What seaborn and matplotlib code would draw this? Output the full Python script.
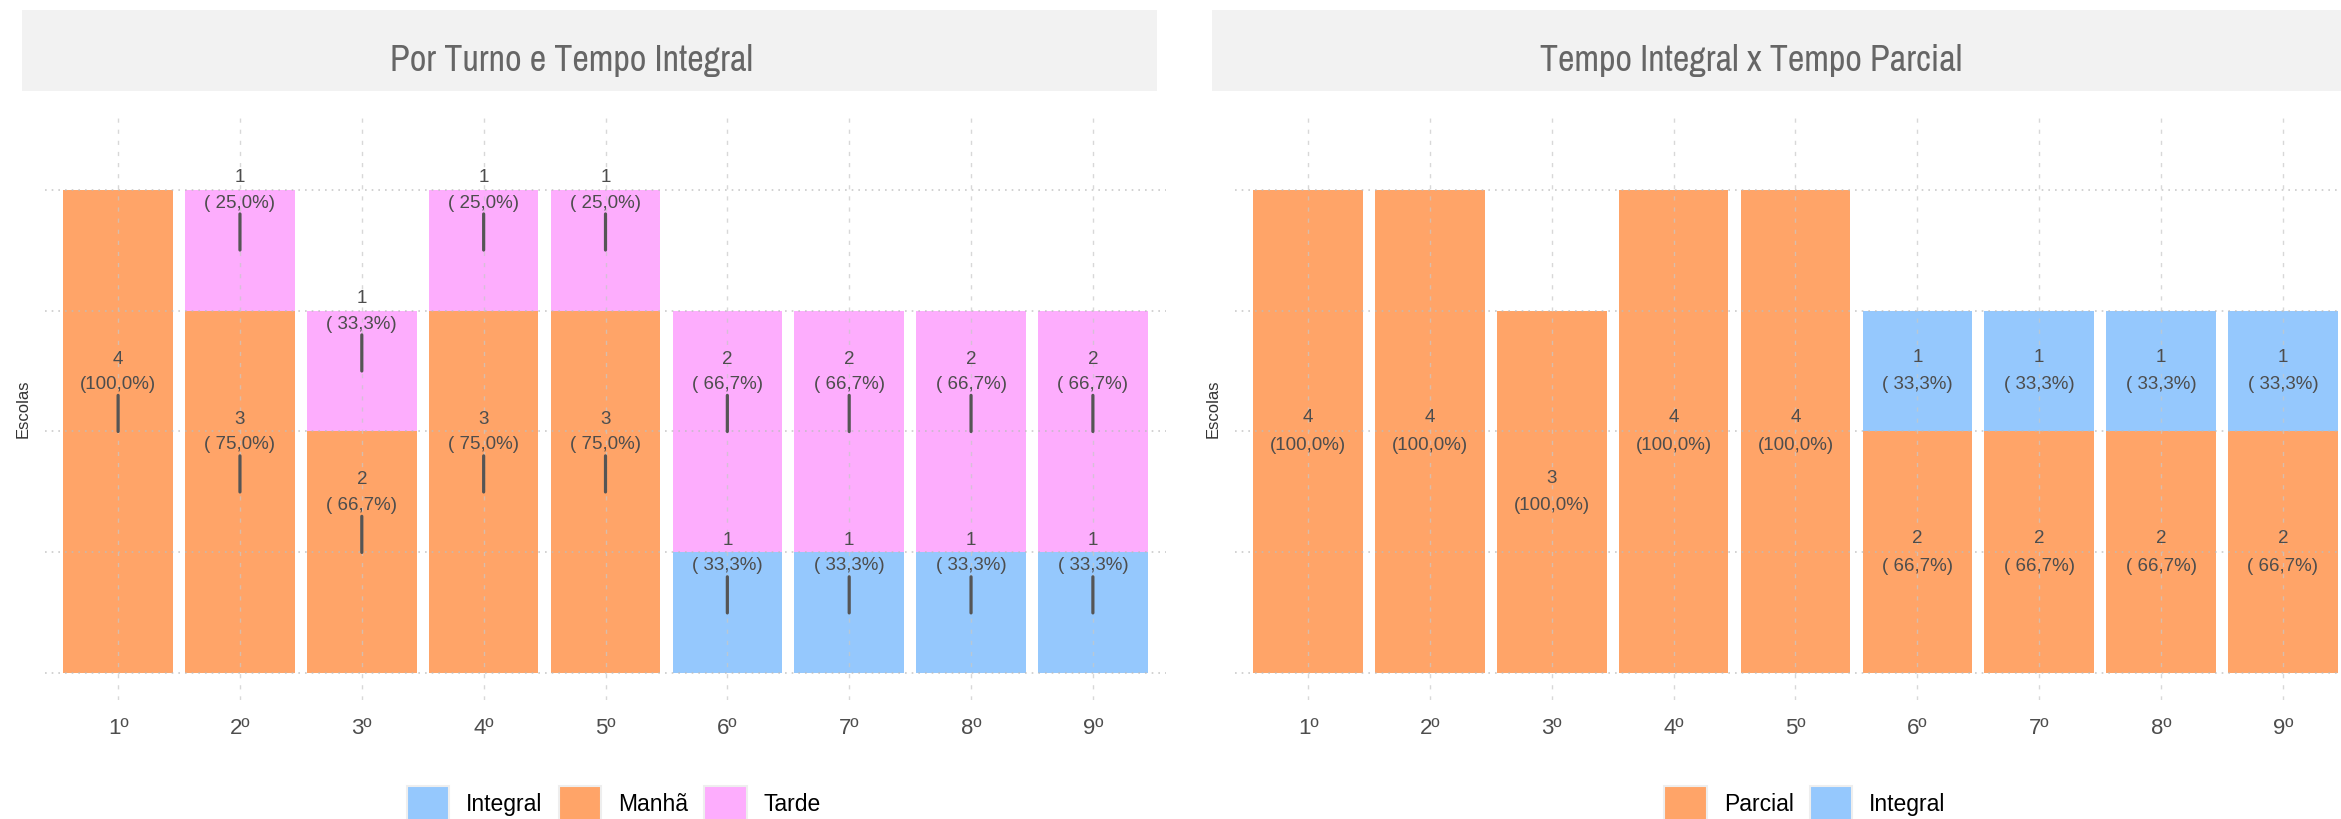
import matplotlib
matplotlib.use("Agg")
import matplotlib.pyplot as plt
from matplotlib import font_manager
from matplotlib.patches import Rectangle, Patch
import seaborn as sns
import pandas as pd
import numpy as np

# ---------------- data ----------------
series = ["1º", "2º", "3º", "4º", "5º", "6º", "7º", "8º", "9º"]
# Panel 1: Por Turno e Tempo Integral (stack bottom -> top: Integral, Manhã, Tarde)
turno_integral = [0, 0, 0, 0, 0, 1, 1, 1, 1]
turno_manha = [4, 3, 2, 3, 3, 0, 0, 0, 0]
turno_tarde = [0, 1, 1, 1, 1, 2, 2, 2, 2]
# Panel 2: Tempo Integral x Tempo Parcial (stack bottom -> top: Parcial, Integral)
tempo_parcial = [4, 4, 3, 4, 4, 2, 2, 2, 2]
tempo_integral = [0, 0, 0, 0, 0, 1, 1, 1, 1]

titles = ["Por Turno e Tempo Integral", "Tempo Integral x Tempo Parcial"]
ylabel = "Escolas"

C_ORANGE = "#FFA468"
C_PINK = "#FDADFD"
C_BLUE = "#95C8FD"
TXT = "#4d4d4d"

sns.set_theme(style="white")
REG = "Liberation Sans"
plt.rcParams["font.family"] = [REG, "DejaVu Sans"]

# look for a narrow / condensed face for the strip titles
narrow_family, narrow_stretch = None, "normal"
for f in font_manager.fontManager.ttflist:
    nm = f.name.lower()
    if "narrow" in nm or "condensed" in nm:
        narrow_family, narrow_stretch = f.name, "normal"
        break
if narrow_family is None:
    for f in font_manager.fontManager.ttflist:
        st = f.stretch
        if isinstance(st, str) and st in ("condensed", "semi-condensed", "extra-condensed") and f.style == "normal" and f.weight in (400, "normal", "regular"):
            narrow_family, narrow_stretch = f.name, st
            break
title_size = 26 if narrow_family else 22.5
title_family = [narrow_family, "DejaVu Sans"] if narrow_family else [REG, "DejaVu Sans"]

W, H = 2341, 819
fig = plt.figure(figsize=(W / 100, H / 100), dpi=100)


def fx(px):
    return px / W


def fy(py):
    return 1 - py / H


ax_bottom = fy(700)
ax_h = (700 - 117) / H
ax_w = (1166 - 45) / W
ax1 = fig.add_axes([fx(45), ax_bottom, ax_w, ax_h])
ax2 = fig.add_axes([fx(1235), ax_bottom, ax_w, ax_h])


def pct_label(n, total):
    p = 100.0 * n / total
    return f"({p:5.1f}%)".replace(".", ",")


def draw_panel(ax, layers, colors, with_tick):
    n = len(series)
    totals = np.sum(np.array(layers), axis=0)
    cum = np.cumsum(np.array(layers), axis=0)
    for k in range(len(layers) - 1, -1, -1):
        df = pd.DataFrame({"serie": series, "v": cum[k]})
        sns.barplot(data=df, x="serie", y="v", order=series, color=colors[k],
                    width=0.9, saturation=1, linewidth=0, ax=ax, zorder=1)
    for k, lay in enumerate(layers):
        below = cum[k] - np.array(lay)
        for i in range(n):
            v = lay[i]
            if v <= 0:
                continue
            mid = below[i] + v / 2
            txt = f"{v}\n{pct_label(v, totals[i])}"
            if with_tick:
                ax.annotate(txt, xy=(i, mid), xytext=(0, 43), textcoords="offset points",
                            ha="center", va="center", fontsize=13.5, color=TXT,
                            linespacing=1.65, zorder=5)
                ax.annotate("", xy=(i, mid), xytext=(0, 26), textcoords="offset points",
                            arrowprops=dict(arrowstyle="-", lw=2.3, color="#555555",
                                            shrinkA=0, shrinkB=0), zorder=5)
            else:
                ax.annotate(txt, xy=(i, mid), xytext=(0, 0), textcoords="offset points",
                            ha="center", va="center", fontsize=13.5, color=TXT,
                            linespacing=1.8, zorder=5)
    ax.set_xlim(-0.6, n - 1 + 0.6)
    ax.set_ylim(-0.22, 4.6)
    ax.set_yticks([0, 1, 2, 3, 4])
    ax.set_yticklabels([])
    ax.set_xticks(range(n))
    ax.set_xticklabels(series, fontsize=16, color=TXT)
    ax.tick_params(axis="both", length=0)
    ax.tick_params(axis="x", pad=13)
    for s in ax.spines.values():
        s.set_visible(False)
    ax.set_axisbelow(False)
    ax.grid(True, axis="y", linestyle=(0, (1, 3)), color="#bdbdbd", linewidth=1.2, alpha=0.8)
    ax.grid(True, axis="x", linestyle=(0, (3, 5)), color="#c8c8c8", linewidth=1.0, alpha=0.7)
    for gl in ax.get_xgridlines() + ax.get_ygridlines():
        gl.set_zorder(2)
    ax.set_xlabel("")
    ax.set_ylabel(ylabel, fontsize=12, color="#333333")
    ax.yaxis.set_label_coords(-14 / (1166 - 45), 0.5)


draw_panel(ax1, [turno_integral, turno_manha, turno_tarde], [C_BLUE, C_ORANGE, C_PINK], True)
draw_panel(ax2, [tempo_parcial, tempo_integral], [C_ORANGE, C_BLUE], False)

for (x0, x1, tx, title) in [(22, 1157, 571, titles[0]), (1212, 2360, 1751, titles[1])]:
    fig.patches.append(Rectangle((fx(x0), fy(91)), fx(x1 - x0), (91 - 10) / H,
                                 transform=fig.transFigure, facecolor="#F2F2F2",
                                 edgecolor="none", zorder=0))
    fig.text(fx(tx), fy(71), title, ha="center", va="baseline", fontsize=title_size,
             color="#666666", family=title_family, fontstretch=narrow_stretch)

leg_specs = [
    (614, [("Integral", C_BLUE), ("Manhã", C_ORANGE), ("Tarde", C_PINK)]),
    (1805, [("Parcial", C_ORANGE), ("Integral", C_BLUE)]),
]
for cx, items in leg_specs:
    handles = [Patch(facecolor=c, edgecolor="#eeeeee", linewidth=1.5) for _, c in items]
    labels = [l for l, _ in items]
    fig.legend(handles, labels, loc="center", bbox_to_anchor=(fx(cx), fy(804)),
               ncol=len(items), frameon=False, fontsize=16.5, handlelength=1.85,
               handleheight=2.0, handletextpad=0.75, columnspacing=0.7,
               borderaxespad=0, borderpad=0, labelcolor="black")

fig.savefig("out.png", dpi=100)
